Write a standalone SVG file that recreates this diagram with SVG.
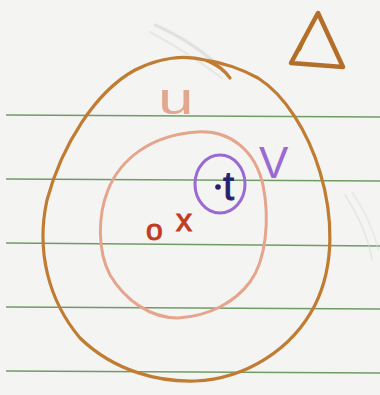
<svg xmlns="http://www.w3.org/2000/svg" width="380" height="395" viewBox="0 0 380 395">
<style>
.rule{stroke:#6f9c66;stroke-width:1.6;fill:none}
.pen{fill:none;stroke-linecap:round;stroke-linejoin:round}
.hand{font-family:"Liberation Sans","DejaVu Sans",sans-serif}
</style>
<rect width="380" height="395" fill="#f4f4f2"/>
<g id="paper-lines">
<line class="rule" x1="6" y1="115" x2="380" y2="117"/>
<line class="rule" x1="6" y1="179" x2="380" y2="181"/>
<line class="rule" x1="6" y1="243" x2="380" y2="246"/>
<line class="rule" x1="6" y1="307" x2="380" y2="309"/>
<line class="rule" x1="6" y1="371" x2="380" y2="373"/>
</g>
<g id="faint-marks" opacity="0.5">
<path class="pen" d="M155,25 C185,38 208,55 228,74" stroke="#d0d0d0" stroke-width="3"/>
<path class="pen" d="M150,32 C176,46 200,62 222,78" stroke="#dcdcdc" stroke-width="2"/>
<path class="pen" d="M345,195 C358,215 368,235 372,260" stroke="#d8d8d8" stroke-width="1.5"/>
<path class="pen" d="M352,192 C364,210 374,230 378,250" stroke="#dedede" stroke-width="1.5"/>
</g>
<g id="triangle">
<path class="pen" d="M318,13 L291,63 L343,67 Z" stroke="#b36f2a" stroke-width="4.5"/>
<path class="pen" d="M312,22 L300,50" stroke="#b36f2a" stroke-width="2"/>
</g>
<g id="outer-set">
<path class="pen" d="M230,78 C224,70 218,65 205,60 C185,55 160,57 135,70 C95,92 62,145 47,200 C36,250 48,300 80,338 C115,372 160,382 195,381 C245,379 292,350 315,305 C335,265 333,215 320,172 C308,132 285,95 258,78 C240,68 220,62 200,59" stroke="#c07c32" stroke-width="3.2"/>
</g>
<g id="set-u">
<path class="pen" d="M197,132 C230,130 255,150 263,185 C270,220 266,260 250,282 C235,302 210,316 178,318 C150,318 125,300 110,275 C97,250 98,215 108,190 C120,160 150,135 197,132 Z" stroke="#e5a58d" stroke-width="3"/>
<text class="hand" transform="translate(158,114) scale(1.6,1.1)" font-size="40" fill="#e4a68e">u</text>
</g>
<g id="set-v">
<ellipse cx="220" cy="184" rx="25" ry="29" class="pen" stroke="#9a6ad2" stroke-width="3"/>
<text class="hand" x="259" y="178" font-size="44" fill="#9a6ad2">V</text>
</g>
<g id="point-t">
<circle cx="218" cy="187" r="2.8" fill="#27206e"/>
<text class="hand" x="223" y="200" font-size="40" fill="#27206e" stroke="#27206e" stroke-width="0.8">t</text>
</g>
<g id="marks">
<text class="hand" x="146" y="240" font-size="30" fill="#c23b24" stroke="#c23b24" stroke-width="1">o</text>
<text class="hand" x="176" y="231" font-size="32" fill="#c23b24" stroke="#c23b24" stroke-width="1">x</text>
</g>
</svg>
